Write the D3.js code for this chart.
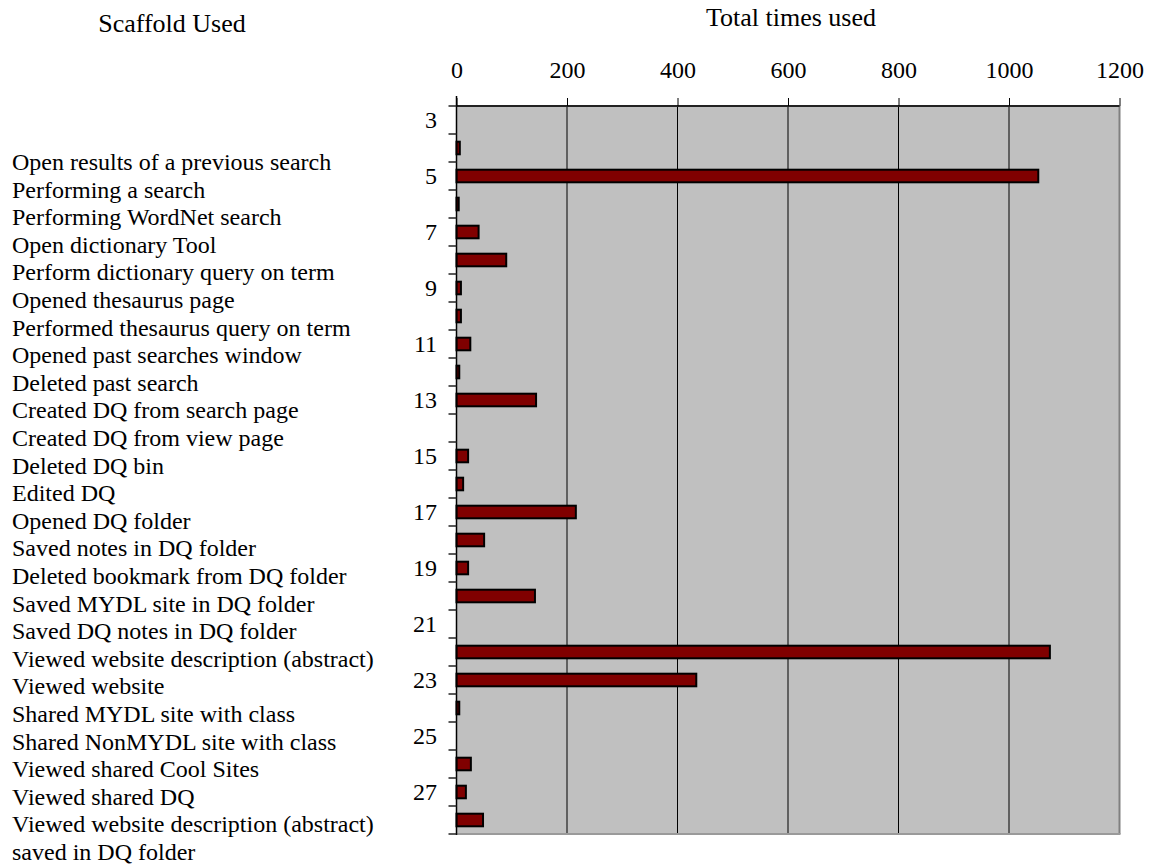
<!DOCTYPE html>
<html>
<head>
<meta charset="utf-8">
<script src="https://cdn.jsdelivr.net/npm/d3@7"></script>
<style>
  html, body { margin: 0; padding: 0; background: #fff; }
  svg { display: block; font-family: "Liberation Serif", "Times New Roman", serif; }
</style>
</head>
<body>
<svg id="chart" width="1151" height="865"></svg>
<script>
// Row numbers on the category axis (3 has no bar)
const rows = [3, 4, 5, 6, 7, 8, 9, 10, 11, 12, 13, 14, 15, 16, 17, 18, 19, 20, 21, 22, 23, 24, 25, 26, 27, 28];
// Total times each scaffold was used, one value per row
const timesUsed = [0, 6, 1053, 4, 40, 90, 8, 8, 25, 5, 144, 0, 21, 12, 216, 50, 21, 142, 0, 1074, 434, 5, 0, 26, 17, 48];
// Scaffold names listed down the left side
const scaffolds = [
  "Open results of a previous search",
  "Performing a search",
  "Performing WordNet search",
  "Open dictionary Tool",
  "Perform dictionary query on term",
  "Opened thesaurus page",
  "Performed thesaurus query on term",
  "Opened past searches window",
  "Deleted past search",
  "Created DQ from search page",
  "Created DQ from view page",
  "Deleted DQ bin",
  "Edited DQ",
  "Opened DQ folder",
  "Saved notes in DQ folder",
  "Deleted bookmark from DQ folder",
  "Saved MYDL site in DQ folder",
  "Saved DQ notes in DQ folder",
  "Viewed website description (abstract)",
  "Viewed website",
  "Shared MYDL site with class",
  "Shared NonMYDL site with class",
  "Viewed shared Cool Sites",
  "Viewed shared DQ",
  "Viewed website description (abstract)\nsaved in DQ folder"
];
const xTicks = [0, 200, 400, 600, 800, 1000, 1200];
const rowLabels = [3, 5, 7, 9, 11, 13, 15, 17, 19, 21, 23, 25, 27];

const svg = d3.select("#chart");
const plot = { left: 456.5, right: 1119.5, top: 106, bottom: 834 };

const x = d3.scaleLinear().domain([0, 1200]).range([plot.left, plot.right]);
const y = d3.scaleBand().domain(rows).range([plot.top, plot.bottom])
  .paddingInner(0.55).paddingOuter(0.275);

// Plot background
svg.append("rect")
  .attr("x", plot.left).attr("y", plot.top)
  .attr("width", plot.right - plot.left).attr("height", plot.bottom - plot.top)
  .attr("fill", "#c0c0c0");

// Vertical gridlines
svg.append("g")
  .selectAll("line")
  .data(xTicks.filter(d => d > 0 && d < 1200))
  .join("line")
  .attr("x1", d => x(d)).attr("x2", d => x(d))
  .attr("y1", plot.top).attr("y2", plot.bottom)
  .attr("stroke", "#000").attr("stroke-width", 1);

// Plot frame: grey on the right and bottom
svg.append("line")
  .attr("x1", plot.right).attr("x2", plot.right)
  .attr("y1", plot.top).attr("y2", plot.bottom)
  .attr("stroke", "#808080").attr("stroke-width", 2);
svg.append("line")
  .attr("x1", plot.left).attr("x2", plot.right + 1)
  .attr("y1", plot.bottom).attr("y2", plot.bottom)
  .attr("stroke", "#9a9a9a").attr("stroke-width", 2);

// Bars
svg.append("g")
  .selectAll("rect")
  .data(rows.map((r, i) => ({ row: r, value: timesUsed[i] })).filter(d => d.value > 0))
  .join("rect")
  .attr("x", x(0))
  .attr("y", d => y(d.row))
  .attr("width", d => x(d.value) - x(0))
  .attr("height", y.bandwidth())
  .attr("fill", "#800000")
  .attr("stroke", "#000")
  .attr("stroke-width", 2);

// Top value axis
const xAxis = d3.axisTop(x).tickValues(xTicks).tickSize(8).tickPadding(20).tickFormat(d3.format("d"));
const gx = svg.append("g").attr("transform", `translate(0,${plot.top})`).call(xAxis);
gx.select(".domain").attr("stroke", "#222").attr("stroke-width", 2).attr("d", `M${plot.left},0H${plot.right}`);
gx.selectAll(".tick line").attr("stroke", "#000");
gx.selectAll(".tick text")
  .attr("font-family", "Liberation Serif, Times New Roman, serif")
  .attr("font-size", 24).attr("fill", "#000");

// Left category axis: tick marks at row boundaries, labels on odd rows
const boundaries = rows.map(r => y(r) - y.step() * y.paddingInner() / 2);
boundaries.push(plot.bottom);
const gy = svg.append("g");
gy.append("line")
  .attr("x1", plot.left).attr("x2", plot.left)
  .attr("y1", plot.top - 10).attr("y2", plot.bottom + 1)
  .attr("stroke", "#000").attr("stroke-width", 1.5);
gy.selectAll("line.tk")
  .data(boundaries)
  .join("line")
  .attr("class", "tk")
  .attr("x1", plot.left - 8).attr("x2", plot.left)
  .attr("y1", d => d).attr("y2", d => d)
  .attr("stroke", "#222").attr("stroke-width", 1.5);
gy.selectAll("text")
  .data(rowLabels)
  .join("text")
  .attr("x", 437)
  .attr("y", d => y(d) + y.bandwidth() / 2)
  .attr("dy", "0.33em")
  .attr("text-anchor", "end")
  .attr("font-size", 24)
  .text(d => d);

// Titles
svg.append("text")
  .attr("x", 172).attr("y", 32)
  .attr("text-anchor", "middle")
  .attr("font-size", 26)
  .text("Scaffold Used");
svg.append("text")
  .attr("x", 791).attr("y", 26)
  .attr("text-anchor", "middle")
  .attr("font-size", 26)
  .text("Total times used");

// Scaffold name list
const lines = scaffolds.flatMap(s => s.split("\n"));
svg.append("g")
  .selectAll("text")
  .data(lines)
  .join("text")
  .attr("x", 12)
  .attr("y", (d, i) => 170 + i * 27.6)
  .attr("font-size", 24)
  .text(d => d);
</script>
</body>
</html>
